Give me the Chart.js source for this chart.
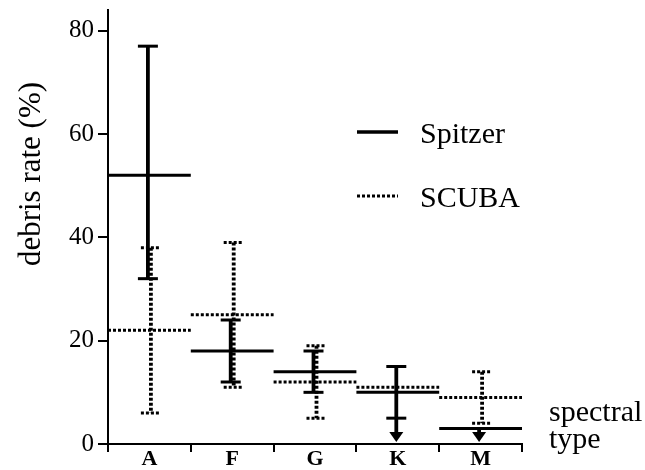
<!DOCTYPE html>
<html><head><meta charset="utf-8">
<script src="https://cdn.jsdelivr.net/npm/chart.js@4"></script>
<style>html,body{margin:0;padding:0;background:#fff}#wrap{width:645px;height:470px}</style>
</head><body><div id="wrap"><canvas id="c" width="645" height="470"></canvas></div>
<script>
const categories = ['A', 'F', 'G', 'K', 'M'];
const spitzer = [52, 18, 14, 10, 3];
const spitzerLow = [32, 12, 10, 5, null];
const spitzerHigh = [77, 24, 18, 15, null];
const spitzerUpperLimit = [false, false, false, true, true];
const scuba = [22, 25, 12, 11, 9];
const scubaLow = [6, 11, 5, null, 4];
const scubaHigh = [38, 39, 19, null, 14];
const yTicks = [0, 20, 40, 60, 80];
const seriesNames = ['Spitzer', 'SCUBA'];
const xAxisNote = ['spectral', 'type'];
const yTitle = 'debris rate (%)';

const SERIF = '"Liberation Serif","Times New Roman",serif';

function seg(ctx, x1, y1, x2, y2, w, dash) {
  ctx.beginPath();
  ctx.lineWidth = w;
  ctx.setLineDash(dash || []);
  ctx.moveTo(x1, y1);
  ctx.lineTo(x2, y2);
  ctx.stroke();
}

const marks = {
  id: 'marks',
  afterDatasetsDraw(chart) {
    const { ctx, scales: { x, y } } = chart;
    const half = (x.getPixelForValue(1) - x.getPixelForValue(0)) / 2;
    ctx.save();
    ctx.strokeStyle = '#000';
    ctx.fillStyle = '#000';
    ctx.lineCap = 'butt';
    function series(vals, lows, highs, limits, dx, w, dash) {
      vals.forEach((v, i) => {
        const cx = x.getPixelForValue(i);
        const py = y.getPixelForValue(v);
        seg(ctx, cx - half, py, cx + half, py, w, dash);
        const bx = cx + dx;
        if (highs[i] != null && lows[i] != null) {
          const yh = y.getPixelForValue(highs[i]);
          const yl = y.getPixelForValue(lows[i]);
          seg(ctx, bx, yh, bx, yl, w + 0.8, dash);
          seg(ctx, bx - 10, yh, bx + 10, yh, w, dash);
          seg(ctx, bx - 10, yl, bx + 10, yl, w, dash);
        }
        if (limits && limits[i]) {
          const start = y.getPixelForValue(lows[i] != null ? lows[i] : v);
          const tip = y.getPixelForValue(0) - 2;
          seg(ctx, bx, start, bx, tip - 9, w + 0.8, []);
          ctx.setLineDash([]);
          ctx.beginPath();
          ctx.moveTo(bx - 7, tip - 10);
          ctx.lineTo(bx + 7, tip - 10);
          ctx.lineTo(bx, tip);
          ctx.closePath();
          ctx.fill();
        }
      });
    }
    series(scuba, scubaLow, scubaHigh, null, 1.5, 3, [3, 2]);
    series(spitzer, spitzerLow, spitzerHigh, spitzerUpperLimit, -1.5, 3, []);
    ctx.restore();
  }
};

const texts = {
  id: 'texts',
  afterDraw(chart) {
    const ctx = chart.ctx;
    ctx.save();
    ctx.fillStyle = '#000';
    ctx.strokeStyle = '#000';
    ctx.font = '31px ' + SERIF;
    ctx.translate(32, 174);
    ctx.rotate(-Math.PI / 2);
    ctx.textAlign = 'center';
    ctx.textBaseline = 'middle';
    ctx.fillText(yTitle, 0, 0);
    ctx.setTransform(1, 0, 0, 1, 0, 0);
    ctx.font = '30px ' + SERIF;
    ctx.textAlign = 'left';
    ctx.textBaseline = 'alphabetic';
    ctx.fillText(xAxisNote[0], 549, 421);
    ctx.fillText(xAxisNote[1], 549, 448);
    ctx.lineCap = 'butt';
    seg(ctx, 357, 132, 398, 132, 3.5, []);
    seg(ctx, 357, 196, 398, 196, 3, [3, 2]);
    ctx.setLineDash([]);
    ctx.fillText(seriesNames[0], 420, 143);
    ctx.fillText(seriesNames[1], 420, 207);
    ctx.restore();
  }
};

new Chart(document.getElementById('c'), {
  type: 'line',
  data: {
    labels: categories,
    datasets: [
      { label: seriesNames[0], data: spitzer, showLine: false, pointRadius: 0 },
      { label: seriesNames[1], data: scuba, showLine: false, pointRadius: 0 }
    ]
  },
  options: {
    responsive: false,
    animation: false,
    events: [],
    layout: { padding: { top: 10, right: 123, left: 0, bottom: 0 } },
    plugins: { legend: { display: false }, tooltip: { enabled: false } },
    scales: {
      x: {
        type: 'category',
        offset: true,
        grid: { offset: true, drawOnChartArea: false, drawTicks: true, tickLength: 8, color: '#000', lineWidth: 2 },
        border: { color: '#000', width: 2 },
        ticks: { color: '#000', font: { family: SERIF, size: 22, weight: 'bold', lineHeight: 1 }, padding: -4, maxRotation: 0, autoSkip: false },
        afterFit(s) { s.height = 26; s.paddingLeft = 0; s.paddingRight = 0; }
      },
      y: {
        min: 0,
        max: 84,
        afterBuildTicks(s) { s.ticks = yTicks.map(v => ({ value: v })); },
        grid: { drawOnChartArea: false, tickLength: 10, color: '#000', lineWidth: 2 },
        border: { color: '#000', width: 2 },
        ticks: { color: '#000', font: { family: SERIF, size: 25 }, padding: 4 },
        afterFit(s) { s.width = 108; s.paddingTop = 0; s.paddingBottom = 0; }
      }
    }
  },
  plugins: [marks, texts]
});
</script>
</body></html>
